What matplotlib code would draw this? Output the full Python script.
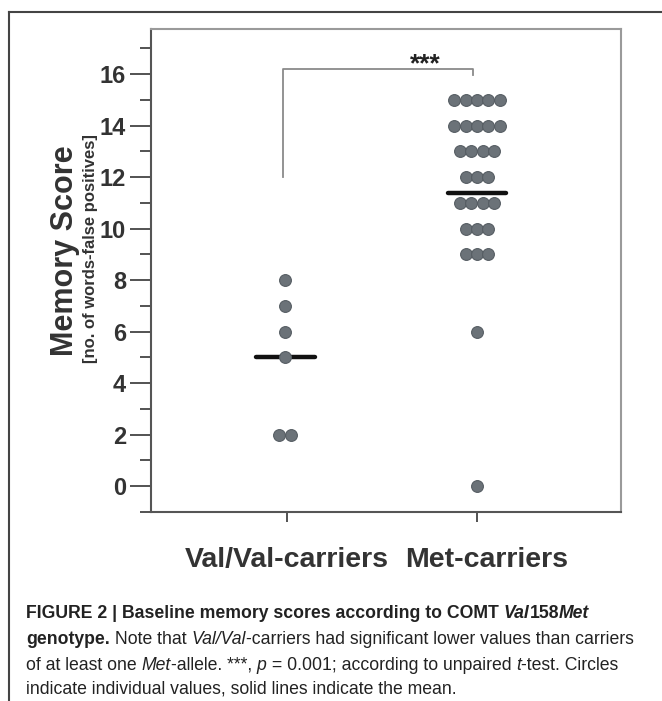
import matplotlib
matplotlib.use("Agg")
import matplotlib.pyplot as plt
import numpy as np
from matplotlib.lines import Line2D
import matplotlib.transforms as mtransforms

# ---- data ----
groups = ["Val/Val-carriers", "Met-carriers"]
val_scores = [8, 7, 6, 5, 2, 2]
met_scores = [15]*5 + [14]*5 + [13]*4 + [12]*3 + [11]*4 + [10]*3 + [9]*3 + [6, 0]
means = [5.0, 11.4]
yticks = [0, 2, 4, 6, 8, 10, 12, 14, 16]
sig_label = "***"
sig_left_bottom = 12.0
sig_top = 16.2
sig_right_bottom = 15.95

plt.rcParams['font.family'] = ['Liberation Sans', 'DejaVu Sans']

fig = plt.figure(figsize=(6.62, 7.01), dpi=100)
ax = fig.add_axes([151/662, 1-512/701, (621-151)/662, (512-29)/701])

dot_color = "#6b7278"
edge_color = "#565d63"
spacing = 0.0595

def swarm_x(center, values):
    vals = np.array(values)
    out_x, out_y = [], []
    for v in sorted(set(values), reverse=True):
        n = int(np.sum(vals == v))
        offs = (np.arange(n) - (n-1)/2) * spacing
        for o in offs:
            out_x.append(center + o)
            out_y.append(v)
    return out_x, out_y

positions = [0.99, 2.0]
for pos, vals, m in zip(positions, [val_scores, met_scores], means):
    xs, ys = swarm_x(pos, vals)
    ax.hlines(m, pos-0.155, pos+0.155, color="#111111", lw=3.2, zorder=2, capstyle='round')
    ax.scatter(xs, ys, s=72, color=dot_color, edgecolor=edge_color, linewidth=0.8, zorder=3)

# significance bracket
ax.plot([0.98, 0.98, 1.98, 1.98], [sig_left_bottom, sig_top, sig_top, sig_right_bottom],
        color="#8a8a8a", lw=1.3, clip_on=False)
ax.text(1.73, sig_top-0.3, sig_label, ha="center", va="bottom", fontsize=19,
        fontweight="bold", color="#222222")

ax.set_xlim(0.284, 2.758)
ax.set_ylim(-1, 17.75)
ax.set_yticks(yticks)
ax.set_yticks(np.arange(-1, 18, 2), minor=True)
ax.set_yticklabels([str(t) for t in yticks], fontsize=17, fontweight="bold", color="#333333")
ax.set_xticks([1.0, 2.0])
ax.set_xticklabels(groups, fontsize=20.5, fontweight="bold", color="#333333")
ax.tick_params(axis='y', which='major', length=15, width=1.3, color="#444444", pad=3)
ax.tick_params(axis='y', which='minor', length=8, width=1.3, color="#444444")
ax.tick_params(axis='x', which='major', length=7, width=1.3, color="#444444", pad=18, direction='out')
lbls = ax.get_xticklabels()
lbls[1].set_transform(lbls[1].get_transform() + mtransforms.ScaledTranslation(10/100, 0, fig.dpi_scale_trans))
for s in ax.spines.values():
    s.set_color("#9a9a9a")
    s.set_linewidth(1.5)
ax.spines['left'].set_color("#555555")
ax.spines['bottom'].set_color("#555555")

fig.text(65/662, 1-251/701, "Memory Score", rotation=90, ha="center", va="center",
         fontsize=22, fontweight="bold", color="#333333")
fig.text(90/662, 1-249/701, "[no. of words-false positives]", rotation=90, ha="center", va="center",
         fontsize=12, fontweight="bold", color="#333333")

# figure frame lines
fig.add_artist(Line2D([9/662, 9/662], [0, 1-12/701], transform=fig.transFigure, color="#444444", lw=1.5))
fig.add_artist(Line2D([9/662, 1], [1-12/701, 1-12/701], transform=fig.transFigure, color="#444444", lw=1.5))

# caption (segments: text, weight, style)
cap_lines = [
    (614, [("FIGURE 2 | Baseline memory scores according to COMT ", "bold", "normal"),
           ("Val", "bold", "italic"), ("158", "bold", "normal"), ("Met", "bold", "italic")]),
    (640, [("genotype.", "bold", "normal"), (" Note that ", "normal", "normal"),
           ("Val/Val", "normal", "italic"),
           ("-carriers had significant lower values than carriers", "normal", "normal")]),
    (665, [("of at least one ", "normal", "normal"), ("Met", "normal", "italic"),
           ("-allele. ***, ", "normal", "normal"), ("p", "normal", "italic"),
           (" = 0.001; according to unpaired ", "normal", "normal"), ("t", "normal", "italic"),
           ("-test. Circles", "normal", "normal")]),
    (689, [("indicate individual values, solid lines indicate the mean.", "normal", "normal")]),
]
cap_family = 'Liberation Sans'
renderer = fig.canvas.get_renderer()

def draw_line(y_px, segs, fs, draw=True):
    x = 26.0
    arts = []
    for txt, w, st in segs:
        t = fig.text(x/662, 1-y_px/701, txt, fontsize=fs, fontweight=w, fontstyle=st,
                     family=cap_family, va="center", ha="left", color="#222222")
        bb = t.get_window_extent(renderer)
        x += bb.width
        arts.append(t)
    if not draw:
        for t in arts:
            t.remove()
    return x

# fit font size so the second line spans to ~636 px
fs = 14.0
w_end = draw_line(640, cap_lines[1][1], fs, draw=False)
fs = fs * (636 - 26) / (w_end - 26)
for y_px, segs in cap_lines:
    draw_line(y_px, segs, fs)

fig.savefig("out.png", dpi=100)
